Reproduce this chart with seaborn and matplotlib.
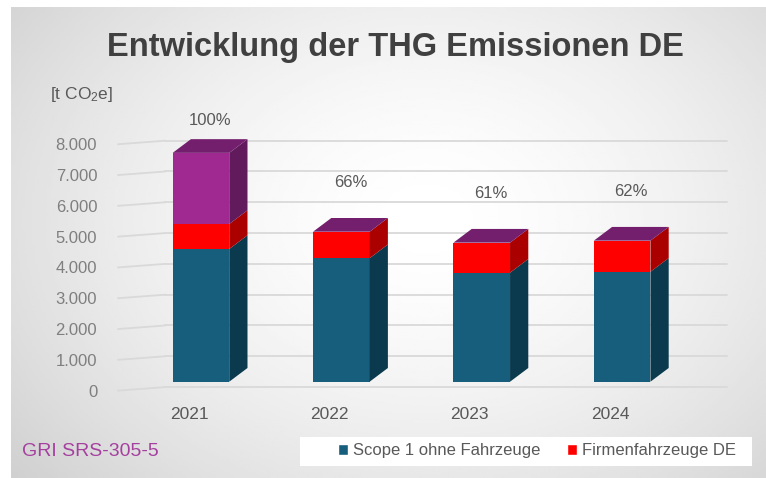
import numpy as np
import pandas as pd
import matplotlib.pyplot as plt
import seaborn as sns
from matplotlib.patches import Polygon, Rectangle, Patch

sns.set_style("white")
plt.rcParams["font.family"] = ["Liberation Sans", "DejaVu Sans"]
plt.rcParams["mathtext.default"] = "regular"

# data
years = ["2021", "2022", "2023", "2024"]
scope1 = [4310, 4010, 3540, 3570]
fahrzeuge = [810, 860, 975, 1010]
sonstige = [2310, 0, 0, 0]
series_names = ["Scope 1 ohne Fahrzeuge", "Firmenfahrzeuge DE", "Sonstige"]
yticks = [0, 1000, 2000, 3000, 4000, 5000, 6000, 7000, 8000]

front = ["#165E7C", "#FF0000", "#A02891"]
side = ["#0B3A4E", "#AA0000", "#611A5B"]
top = ["#0E4A63", "#C00000", "#741F6E"]

layers = np.array([scope1, fahrzeuge, sonstige], dtype=float)
cum = np.cumsum(layers, axis=0)
totals = cum[-1]
pct = [f"{round(t / totals[0] * 100)}%" for t in totals]

fig = plt.figure(figsize=(7.66, 4.78), dpi=100)
fig.patch.set_facecolor("white")

# gradient background
bg = fig.add_axes([11 / 766, 0, 1 - 11 / 766, 1 - 7 / 478], zorder=0)
gx, gy = np.meshgrid(np.linspace(0, 1, 300), np.linspace(0, 1, 200))
r = np.sqrt(((gx - 0.55) / 0.75) ** 2 + ((gy - 0.45) / 0.9) ** 2)
shade = 1 - 0.2 * np.clip(r, 0, 1) ** 1.6
bg.imshow(shade, cmap="gray", vmin=0, vmax=1, aspect="auto",
          extent=[0, 1, 0, 1], origin="upper", interpolation="bilinear")
bg.set_axis_off()

# main axes
ax = fig.add_axes([100 / 766, 78 / 478, 645 / 766, 280 / 478], zorder=1)
ax.patch.set_alpha(0)

width = 0.403
dx, dy = 0.13, 445
wall_front, wall_back, right_end = -0.591, -0.256, 3.746
label_drop, back_drop = 290, 175

# left wall diagonals + back wall gridlines
for v in yticks:
    ax.plot([wall_front, wall_back], [v - label_drop, v - back_drop],
            color="#d9d9d9", lw=1.3, zorder=1)
    ax.plot([wall_back, right_end], [v - back_drop, v - back_drop],
            color="#d9d9d9", lw=1.3, zorder=1)

# front faces, stacked by overlap
for k in range(len(layers) - 1, -1, -1):
    df = pd.DataFrame({"year": years, "value": cum[k]})
    sns.barplot(data=df, x="year", y="value", color=front[k], saturation=1,
                width=width, ax=ax, zorder=3, linewidth=0)

# side and top faces
for i in range(len(years)):
    x1 = i + width / 2
    x0 = i - width / 2
    for k in range(len(layers)):
        b = cum[k - 1][i] if k else 0
        t = cum[k][i]
        if t > b:
            ax.add_patch(Polygon([(x1, b), (x1 + dx, b + dy), (x1 + dx, t + dy), (x1, t)],
                                 closed=True, facecolor=side[k], edgecolor="none", zorder=3))
    # top face belongs to the last series
    t = totals[i]
    ax.add_patch(Polygon([(x0, t), (x0 + dx, t + dy), (x1 + dx, t + dy), (x1, t)],
                         closed=True, facecolor=top[-1], edgecolor="none", zorder=3))

# percentage labels, kept inside the plot area
lab_y = np.minimum(totals + 1600, 8470)
for i, p in enumerate(pct):
    ax.text(i + dx / 2, lab_y[i], p, ha="center", va="center",
            fontsize=12, color="#595959")

ax.set_xlim(-0.719, 3.875)
ax.set_ylim(-594, 8497)
ax.set_yticks([v - label_drop for v in yticks],
              labels=[f"{v:,}".replace(",", ".") for v in yticks])
ax.set_xticks([i - 0.085 for i in range(len(years))], labels=years)
ax.tick_params(axis="y", length=0, pad=2, labelsize=12, labelcolor="#7f7f7f")
ax.tick_params(axis="x", length=0, pad=5, labelsize=12.5, labelcolor="#595959")
ax.set_xlabel("")
ax.set_ylabel("")
sns.despine(ax=ax, left=True, bottom=True)

# title, unit, source
fig.text(395 / 766, 1 - 47 / 478, "Entwicklung der THG Emissionen DE",
         ha="center", va="center", fontsize=23.5, fontweight="bold",
         color="#404040")
fig.text(50 / 766, 1 - 95 / 478, "[t CO$_2$e]", ha="left", va="center",
         fontsize=12.5, color="#595959")
fig.text(22 / 766, 1 - 452 / 478, "GRI SRS-305-5", ha="left", va="center",
         fontsize=14, color="#A5409F")

# legend
fig.patches.append(Rectangle((300 / 766, 1 - 466 / 478), 452 / 766, 29 / 478,
                             transform=fig.transFigure, facecolor="white",
                             edgecolor="none", zorder=2))
handles = [Patch(facecolor=front[0], label=series_names[0]),
           Patch(facecolor=front[1], label=series_names[1])]
leg = fig.legend(handles=handles, loc="center", ncol=2, frameon=False,
                 bbox_to_anchor=(537 / 766, 1 - 451 / 478),
                 handlelength=0.6, handleheight=0.6, handletextpad=0.3,
                 columnspacing=1.6, prop={"size": 12})
for tx in leg.get_texts():
    tx.set_color("#595959")
leg.set_zorder(3)

fig.savefig("out.png", dpi=100)
